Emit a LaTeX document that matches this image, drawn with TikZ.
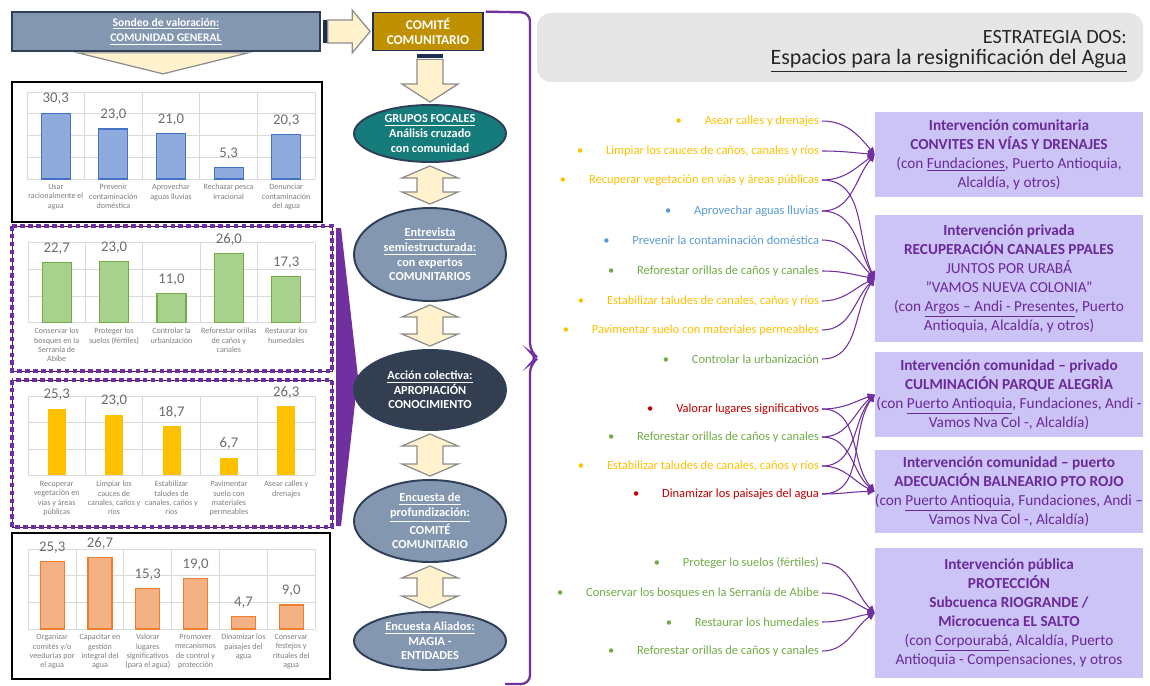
\documentclass[tikz,border=0pt]{standalone}
\usepackage{fontspec}
\setmainfont{Carlito}
\setsansfont{Carlito}
\usetikzlibrary{arrows.meta,calc,positioning,shapes.geometric}
\definecolor{SlateFill}{HTML}{8497B0}
\definecolor{SlateEdge}{HTML}{2F3F58}
\definecolor{TealFill}{HTML}{157B7B}
\definecolor{NavyFill}{HTML}{333F50}
\definecolor{GoldFill}{HTML}{BF9000}
\definecolor{Cream}{HTML}{FFF2CC}
\definecolor{CreamEdge}{HTML}{8C8C8C}
\definecolor{Stripe}{HTML}{1F2F4F}
\definecolor{Violet}{HTML}{7030A0}
\definecolor{Lavender}{HTML}{CCC3F7}
\definecolor{BoxInk}{HTML}{6A2A9A}
\definecolor{TitleGray}{HTML}{E7E6E6}
\definecolor{TitleInk}{HTML}{262626}
\definecolor{GridGray}{HTML}{D9D9D9}
\definecolor{ValGray}{HTML}{6E6E6E}
\definecolor{LabGray}{HTML}{7F7F7F}
\definecolor{BlueFill}{HTML}{8FAADC}
\definecolor{BlueEdge}{HTML}{4472C4}
\definecolor{GreenFill}{HTML}{A9D18E}
\definecolor{GreenEdge}{HTML}{70AD47}
\definecolor{YellowFill}{HTML}{FFC000}
\definecolor{OrangeFill}{HTML}{F4B183}
\definecolor{OrangeEdge}{HTML}{ED7D31}
\definecolor{ItemYellow}{HTML}{FFC000}
\definecolor{ItemBlue}{HTML}{5B9BD5}
\definecolor{ItemGreen}{HTML}{70AD47}
\definecolor{ItemRed}{HTML}{C00000}
\newcommand\bul{\textbullet\hspace{13pt}}
\tikzset{
  every node/.style={font=\sffamily},
  headbox/.style={draw=SlateEdge, line width=1pt, fill=SlateFill, text=white, font=\bfseries\fontsize{6.6}{8.8}\selectfont, align=center, inner sep=0pt, minimum width=6.16cm, minimum height=0.78cm},
  comitebox/.style={draw=Stripe, line width=1pt, fill=GoldFill, text=white, font=\bfseries\fontsize{7.6}{8.8}\selectfont, align=center, inner sep=0pt, minimum width=2.2cm, minimum height=0.76cm},
  stage/.style={ellipse, draw=SlateEdge, line width=1.1pt, fill=SlateFill, text=white, font=\bfseries\fontsize{7}{8.3}\selectfont, align=center, inner xsep=0pt, inner ysep=-2pt, minimum width=3.04cm},
  blockarrow/.style={draw=CreamEdge, line width=0.7pt, fill=Cream, line join=miter},
  chartframe/.style={draw=black, line width=1pt, fill=white},
  purpleframe/.style={draw=Violet, line width=2.6pt, dash pattern=on 2.6pt off 1.9pt},
  gridline/.style={draw=GridGray, line width=0.5pt},
  barval/.style={font=\fontsize{8.4}{9}\selectfont, text=ValGray, inner sep=0pt},
  barlab/.style={font=\fontsize{4.6}{5.3}\selectfont, text=LabGray, align=center, anchor=north, inner sep=0pt},
  item/.style={anchor=east, font=\fontsize{7.1}{8}\selectfont, inner sep=1.5pt},
  action/.style={fill=Lavender, text=BoxInk, align=center, font=\fontsize{8.7}{10.8}\selectfont, inner sep=0pt, minimum width=5.36cm},
  link/.style={draw=Violet, line width=0.6pt, -{Triangle[length=4pt,width=4pt]}},
  brace/.style={draw=Violet, line width=1.3pt, rounded corners=5pt},
}
\begin{document}
\begin{tikzpicture}[x=0.02cm,y=-0.02cm]
  % pixel grid: 1150 x 686, y grows downwards
  \fill[white] (0,0) rectangle (1150,686);
  \useasboundingbox (0,0) rectangle (1150,686);

  % ---- left column: survey header and its four charts
  \node[headbox] (sondeo) at (166,31.5) {\underline{Sondeo de valoración:}\\\underline{COMUNIDAD GENERAL}};
  \draw[blockarrow] ($(sondeo.south)+(-88,1)$) -- ($(sondeo.south)+(82,1)$) -- ($(sondeo.south)+(-3,22)$) -- cycle;

  % chart 1: plot x 27..315, base y 179, 21.75 px per 10
  \draw[chartframe] (12,82) rectangle (322,222);
  \foreach \k in {0,...,4} \draw[gridline] (27,179-21.75*\k) -- (315,179-21.75*\k);
  \foreach \k in {0,...,5} \draw[gridline] (27+57.6*\k,92) -- (27+57.6*\k,179);
  \foreach \v/\t/\l [count=\i] in {30.3/{30,3}/{Usar\\racionalmente el\\agua}, 23.0/{23,0}/{Prevenir\\contaminación\\doméstica}, 21.0/{21,0}/{Aprovechar\\aguas lluvias}, 5.3/{5,3}/{Rechazar pesca\\irracional}, 20.3/{20,3}/{Denunciar\\contaminación\\del agua}}{
    \draw[fill=BlueFill, draw=BlueEdge, line width=0.6pt] (27+57.6*\i-43.3,179) rectangle (27+57.6*\i-14.3,179-2.175*\v);
    \node[barval] at (27+57.6*\i-28.8,165-2.175*\v) {\t};
    \node[barlab] at (27+57.6*\i-28.8,184) {\l};
  }

  % chart 2: dashed purple frame, plot x 28..315, base y 322.7, 26.67 px per 10
  \draw[Violet!60!black, line width=0.5pt] (12,226) rectangle (332,371);
  \draw[purpleframe] (12,226) rectangle (332,371);
  \foreach \k in {0,...,3} \draw[gridline] (28,322.7-26.67*\k) -- (315,322.7-26.67*\k);
  \foreach \k in {0,...,5} \draw[gridline] (28+57.4*\k,242.7) -- (28+57.4*\k,322.7);
  \foreach \v/\t/\l [count=\i] in {22.7/{22,7}/{Conservar los\\bosques en la\\Serranía de\\Abibe}, 23.0/{23,0}/{Proteger los\\suelos (fértiles)}, 11.0/{11,0}/{Controlar la\\urbanización}, 26.0/{26,0}/{Reforestar orillas\\de caños y\\canales}, 17.3/{17,3}/{Restaurar los\\humedales}}{
    \draw[fill=GreenFill, draw=GreenEdge, line width=0.6pt] (28+57.4*\i-43.2,322.7) rectangle (28+57.4*\i-14.2,322.7-2.667*\v);
    \node[barval] at (28+57.4*\i-28.7,308.7-2.667*\v) {\t};
    \node[barlab] at (28+57.4*\i-28.7,328) {\l};
  }

  % chart 3: dashed purple frame, plot x 28..315, base y 475.3, 26.33 px per 10
  \draw[Violet!60!black, line width=0.5pt] (12,380) rectangle (332,527);
  \draw[purpleframe] (12,380) rectangle (332,527);
  \foreach \k in {0,...,3} \draw[gridline] (28,475.3-26.33*\k) -- (315,475.3-26.33*\k);
  \foreach \k in {0,...,5} \draw[gridline] (28+57.4*\k,396.3) -- (28+57.4*\k,475.3);
  \foreach \v/\t/\l [count=\i] in {25.3/{25,3}/{Recuperar\\vegetación en\\vías y áreas\\públicas}, 23.0/{23,0}/{Limpiar los\\cauces de\\canales, caños y\\ríos}, 18.7/{18,7}/{Estabilizar\\taludes de\\canales, caños y\\ríos}, 6.7/{6,7}/{Pavimentar\\suelo con\\materiales\\permeables}, 26.3/{26,3}/{Asear calles y\\drenajes}}{
    \fill[YellowFill] (28+57.4*\i-37.7,475.3) rectangle (28+57.4*\i-19.7,475.3-2.633*\v);
    \node[barval] at (28+57.4*\i-28.7,461.3-2.633*\v) {\t};
    \node[barlab] at (28+57.4*\i-28.7,481) {\l};
  }

  % chart 4: plot x 28.3..315, base y 629, 26.67 px per 10
  \draw[chartframe] (12,533) rectangle (330,679);
  \foreach \k in {0,...,3} \draw[gridline] (28.3,629-26.67*\k) -- (315,629-26.67*\k);
  \foreach \k in {0,...,6} \draw[gridline] (28.3+47.8*\k,549) -- (28.3+47.8*\k,629);
  \foreach \v/\t/\l [count=\i] in {25.3/{25,3}/{Organizar\\comités y/o\\veedurías por\\el agua}, 26.7/{26,7}/{Capacitar en\\gestión\\integral del\\agua}, 15.3/{15,3}/{Valorar\\lugares\\significativos\\(para el agua)}, 19.0/{19,0}/{Promover\\mecanismos\\de control y\\protección}, 4.7/{4,7}/{Dinamizar los\\paisajes del\\agua}, 9.0/{9,0}/{Conservar\\festejos y\\rituales del\\agua}}{
    \draw[fill=OrangeFill, draw=OrangeEdge, line width=0.6pt] (28.3+47.8*\i-35.9,629) rectangle (28.3+47.8*\i-11.9,629-2.667*\v);
    \node[barval] at (28.3+47.8*\i-23.9,615-2.667*\v) {\t};
    \node[barlab] at (28.3+47.8*\i-23.9,634) {\l};
  }

  % chevron beside charts 2 and 3
  \fill[Violet] (336,228) -- (341,228) -- (358,377) -- (341,526) -- (336,526) -- cycle;

  % ---- middle column: stages of the process
  \node[comitebox] (comite) at (428,31.5) {COMITÉ\\COMUNITARIO};
  \node[stage, fill=TealFill, minimum height=1.14cm] (grupos) at (430,133.5) {\underline{GRUPOS FOCALES}\\Análisis cruzado\\con comunidad};
  \node[stage, minimum height=1.86cm] (entrevista) at (430,254.5) {\underline{Entrevista}\\\underline{semiestructurada:}\\con expertos\\COMUNITARIOS};
  \node[stage, fill=NavyFill, minimum height=1.6cm] (accion) at (430,390) {\underline{Acción colectiva:}\\APROPIACIÓN\\CONOCIMIENTO};
  \node[stage, minimum height=1.64cm] (encuesta) at (430,521) {\underline{Encuesta de}\\\underline{profundización:}\\COMITÉ\\COMUNITARIO};
  \node[stage, minimum height=1.16cm] (aliados) at (430,641) {\underline{Encuesta Aliados:}\\MAGIA -\\ENTIDADES};

  % block arrows
  \fill[Stripe] ($(sondeo.east)+(2,-11.5)$) rectangle ($(sondeo.east)+(6,11.5)$);
  \draw[blockarrow] ($(sondeo.east)+(7,-11.5)$) -- ($(comite.west)+(-20,-11.5)$) -- ++(0,-10) -- ($(comite.west)+(-2,0)$) -- ++(-18,21.5) -- ++(0,-10) -- ($(sondeo.east)+(7,11.5)$) -- cycle;
  \fill[Stripe] ($(grupos.north |- comite.south)+(-13,3)$) rectangle ($(grupos.north |- comite.south)+(13,7)$);
  \draw[blockarrow] ($(grupos.north |- comite.south)+(-13,8)$) -- ($(grupos.north |- comite.south)+(13,8)$) -- ($(grupos.north)+(13,-20)$) -- ++(15,0) -- ($(grupos.north)+(0,-2)$) -- ++(-28,-18) -- ++(15,0) -- cycle;
  \foreach \a/\b in {grupos/entrevista, entrevista/accion, accion/encuesta, encuesta/aliados}
    \draw[blockarrow] ($(\a.south)+(0,3)$) -- ++(28,12) -- ++(-15,0) -- ($(\b.north)+(13,-15)$) -- ++(15,0) -- ($(\b.north)+(0,-3)$) -- ++(-28,-12) -- ++(15,0) -- ($(\a.south)+(-13,15)$) -- ++(-15,0) -- cycle;

  % brace closing the middle column
  \draw[brace] ($(comite.north east)+(2,0)$) -- (530,12.5) -- (530,352) -- (538,358) -- (530,364) -- (530,684) -- (505,684);

  % ---- right column: strategy
  \fill[TitleGray, rounded corners=8pt] (537,13) rectangle (1143,82);
  \node[anchor=east, font=\fontsize{11.5}{13}\selectfont, text=TitleInk] (estrategia) at (1133,37) {ESTRATEGIA DOS:};
  \node[anchor=east, font=\fontsize{12.5}{14}\selectfont, text=TitleInk] (espacios) at (1133,61) {\underline{Espacios para la resignificación del Agua}};

  % actions (right aligned at x = 822)
  \node[item, text=ItemYellow] (asear) at (822,121) {\bul Asear calles y drenajes};
  \node[item, text=ItemYellow] (limpiar) at (822,151) {\bul Limpiar los cauces de caños, canales y ríos};
  \node[item, text=ItemYellow] (recuperar) at (822,180) {\bul Recuperar vegetación en vías y áreas públicas};
  \node[item, text=ItemBlue] (aprovechar) at (822,211) {\bul Aprovechar aguas lluvias};
  \node[item, text=ItemBlue] (prevenir) at (822,240) {\bul Prevenir la contaminación doméstica};
  \node[item, text=ItemGreen] (reforestarA) at (822,271) {\bul Reforestar orillas de caños y canales};
  \node[item, text=ItemYellow] (estabilizarA) at (822,301) {\bul Estabilizar taludes de canales, caños y ríos};
  \node[item, text=ItemYellow] (pavimentar) at (822,330) {\bul Pavimentar suelo con materiales permeables};
  \node[item, text=ItemGreen] (controlar) at (822,359) {\bul Controlar la urbanización};
  \node[item, text=ItemRed] (valorar) at (822,409) {\bul Valorar lugares significativos};
  \node[item, text=ItemGreen] (reforestarB) at (822,437) {\bul Reforestar orillas de caños y canales};
  \node[item, text=ItemYellow] (estabilizarB) at (822,466) {\bul Estabilizar taludes de canales, caños y ríos};
  \node[item, text=ItemRed] (dinamizar) at (822,494) {\bul Dinamizar los paisajes del agua};
  \node[item, text=ItemGreen] (proteger) at (822,563) {\bul Proteger lo suelos (fértiles)};
  \node[item, text=ItemGreen] (conservar) at (822,593) {\bul Conservar los bosques en la Serranía de Abibe};
  \node[item, text=ItemGreen] (restaurar) at (822,622) {\bul Restaurar los humedales};
  \node[item, text=ItemGreen] (reforestarC) at (822,651) {\bul Reforestar orillas de caños y canales};

  % interventions
  \node[action, minimum height=1.7cm] (convites) at (1009,154.5) {\textbf{Intervención comunitaria}\\\textbf{CONVITES EN VÍAS Y DRENAJES}\\(con \underline{Fundaciones}, Puerto Antioquia,\\Alcaldía, y otros)};
  \node[action, minimum height=2.54cm] (canales) at (1009,278.5) {\textbf{Intervención privada}\\\textbf{RECUPERACIÓN CANALES PPALES}\\JUNTOS POR URABÁ\\”VAMOS NUEVA COLONIA”\\(con \underline{Argos – Andi - Presentes}, Puerto\\Antioquia, Alcaldía, y otros)};
  \node[action, minimum height=1.7cm] (parque) at (1009,394.5) {\textbf{Intervención comunidad – privado}\\\textbf{CULMINACIÓN PARQUE ALEGRÌA}\\(con \underline{Puerto Antioquia}, Fundaciones, Andi -\\Vamos Nva Col -, Alcaldía)};
  \node[action, minimum height=1.66cm] (balneario) at (1009,491.5) {\textbf{Intervención comunidad – puerto}\\\textbf{ADECUACIÓN BALNEARIO PTO ROJO}\\(con \underline{Puerto Antioquia}, Fundaciones, Andi –\\Vamos Nva Col -, Alcaldía)};
  \node[action, minimum height=2.6cm] (proteccion) at (1009,613) {\textbf{Intervención pública}\\\textbf{PROTECCIÓN}\\\textbf{Subcuenca RIOGRANDE /}\\\textbf{Microcuenca EL SALTO}\\(con \underline{Corpourabá}, Alcaldía, Puerto\\Antioquia - Compensaciones, y otros};

  % links from actions to interventions
  \foreach \s/\t/\a in {asear/convites/130, limpiar/convites/175, recuperar/convites/215, aprovechar/convites/230,
      recuperar/canales/115, aprovechar/canales/120, prevenir/canales/135, reforestarA/canales/170, estabilizarA/canales/205, pavimentar/canales/225, controlar/canales/235,
      valorar/parque/200, reforestarB/parque/220, estabilizarB/parque/230, dinamizar/parque/235,
      valorar/balneario/130, reforestarB/balneario/140, estabilizarB/balneario/155, dinamizar/balneario/180,
      proteger/proteccion/135, conservar/proteccion/155, restaurar/proteccion/190, reforestarC/proteccion/215}
    \draw[link] (\s.east) to[out=0,in=\a] (\t.west);
\end{tikzpicture}
\end{document}
